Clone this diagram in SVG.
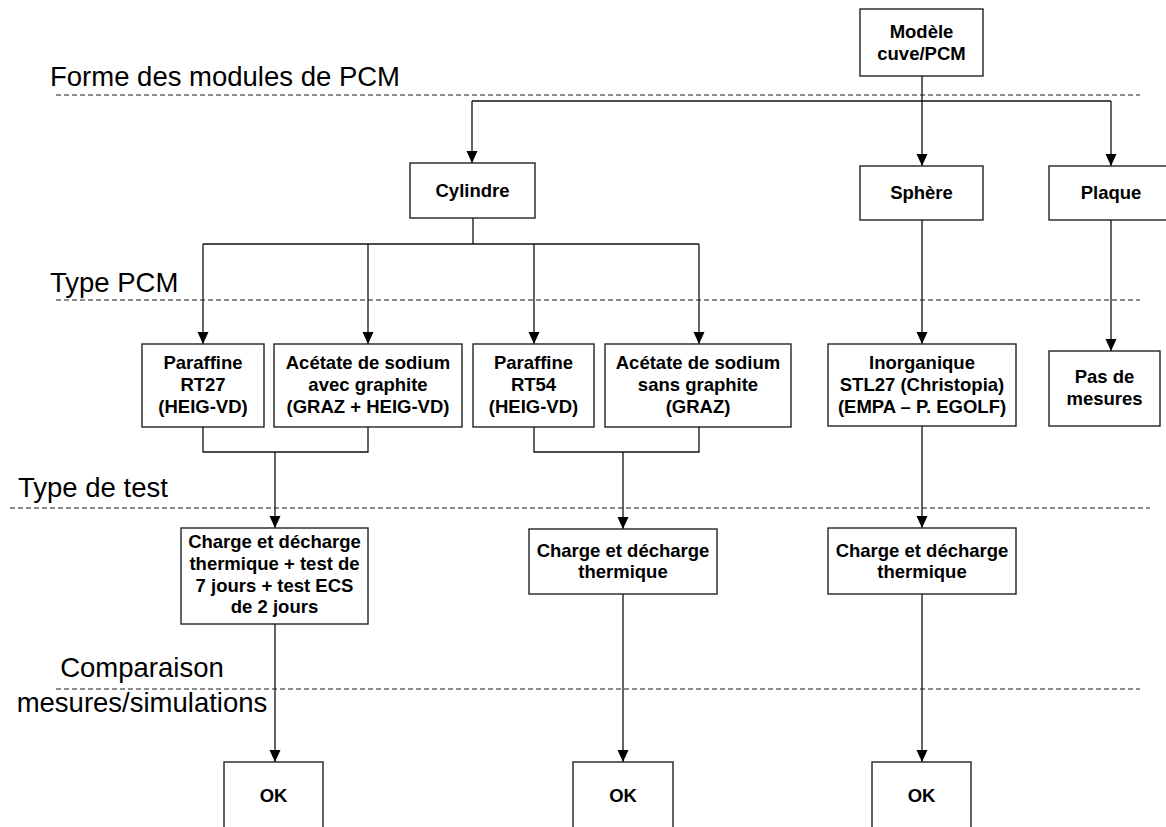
<svg xmlns="http://www.w3.org/2000/svg" width="1166" height="827" viewBox="0 0 1166 827">
  <style>
    .box { fill: #ffffff; stroke: #222222; stroke-width: 1.4; }
    .lbl { font-family: "Liberation Sans", Arial, sans-serif; font-weight: bold; font-size: 18.5px; fill: #000000; text-anchor: middle; }
    .stage { font-family: "Liberation Sans", Arial, sans-serif; font-size: 27.5px; fill: #000000; }
    .sep { stroke: #1a1a1a; stroke-width: 1; stroke-dasharray: 5 3; fill: none; }
    .wire { stroke: #111111; stroke-width: 1.3; fill: none; }
    .arrow { stroke: #111111; stroke-width: 1.3; fill: none; marker-end: url(#head); }
  </style>
  <defs>
    <marker id="head" markerWidth="12" markerHeight="12" refX="12" refY="6" orient="auto" markerUnits="userSpaceOnUse">
      <path d="M0,0.5 L12,6 L0,11.5 Z" fill="#000000"/>
    </marker>
  </defs>

  <rect width="1166" height="827" fill="#ffffff"/>

  <!-- stage separators and titles -->
  <g id="stages">
    <line class="sep" x1="56" y1="95" x2="1140" y2="95"/>
    <line class="sep" x1="56" y1="300" x2="1140" y2="300"/>
    <line class="sep" x1="10" y1="508" x2="1150" y2="508"/>
    <line class="sep" x1="56" y1="689" x2="1140" y2="689"/>
    <text class="stage" x="50" y="86">Forme des modules de PCM</text>
    <text class="stage" x="50" y="292">Type PCM</text>
    <text class="stage" x="18" y="497">Type de test</text>
    <text class="stage" x="142" y="677" text-anchor="middle">Comparaison</text>
    <text class="stage" x="142" y="712" text-anchor="middle">mesures/simulations</text>
  </g>

  <!-- connectors -->
  <g id="connectors">
    <!-- model to module shapes -->
    <line class="wire" x1="922" y1="76" x2="922" y2="101"/>
    <line class="wire" x1="472" y1="101" x2="1111" y2="101"/>
    <line class="arrow" x1="472" y1="101" x2="472" y2="163"/>
    <line class="arrow" x1="922" y1="101" x2="922" y2="166"/>
    <line class="arrow" x1="1111" y1="101" x2="1111" y2="166"/>
    <!-- cylinder to PCM types -->
    <line class="wire" x1="473" y1="218" x2="473" y2="244"/>
    <line class="wire" x1="203" y1="244" x2="699" y2="244"/>
    <line class="arrow" x1="203" y1="244" x2="203" y2="344"/>
    <line class="arrow" x1="368" y1="244" x2="368" y2="344"/>
    <line class="arrow" x1="534" y1="244" x2="534" y2="344"/>
    <line class="arrow" x1="699" y1="244" x2="699" y2="344"/>
    <!-- sphere and plate -->
    <line class="arrow" x1="922" y1="220" x2="922" y2="344"/>
    <line class="arrow" x1="1111" y1="220" x2="1111" y2="351"/>
    <!-- PCM types to tests -->
    <polyline class="wire" points="203,427 203,452 368,452 368,427"/>
    <line class="arrow" x1="275" y1="452" x2="275" y2="528"/>
    <polyline class="wire" points="534,427 534,452 699,452 699,427"/>
    <line class="arrow" x1="623" y1="452" x2="623" y2="529"/>
    <line class="arrow" x1="922" y1="426" x2="922" y2="528"/>
    <!-- tests to comparison -->
    <line class="arrow" x1="275" y1="624" x2="275" y2="762"/>
    <line class="arrow" x1="623" y1="594" x2="623" y2="762"/>
    <line class="arrow" x1="922" y1="594" x2="922" y2="762"/>
  </g>

  <g id="modele">
    <rect class="box" x="860" y="9" width="123" height="67"/>
    <text class="lbl" x="921.5" y="38">Modèle</text>
    <text class="lbl" x="921.5" y="60">cuve/PCM</text>
  </g>

  <g id="cylindre">
    <rect class="box" x="410" y="163" width="125" height="55"/>
    <text class="lbl" x="472.5" y="197">Cylindre</text>
  </g>
  <g id="sphere">
    <rect class="box" x="860" y="166" width="123" height="54"/>
    <text class="lbl" x="921.5" y="199">Sphère</text>
  </g>
  <g id="plaque">
    <rect class="box" x="1049" y="166" width="124" height="54"/>
    <text class="lbl" x="1111" y="199">Plaque</text>
  </g>

  <g id="paraffine-rt27">
    <rect class="box" x="142" y="344" width="122" height="83"/>
    <text class="lbl" x="203" y="368.5">Paraffine</text>
    <text class="lbl" x="203" y="390.5">RT27</text>
    <text class="lbl" x="203" y="412.5">(HEIG-VD)</text>
  </g>
  <g id="acetate-avec">
    <rect class="box" x="274" y="344" width="188" height="83"/>
    <text class="lbl" x="368" y="368.5">Acétate de sodium</text>
    <text class="lbl" x="368" y="390.5">avec graphite</text>
    <text class="lbl" x="368" y="412.5">(GRAZ + HEIG-VD)</text>
  </g>
  <g id="paraffine-rt54">
    <rect class="box" x="473" y="344" width="121" height="83"/>
    <text class="lbl" x="533.5" y="368.5">Paraffine</text>
    <text class="lbl" x="533.5" y="390.5">RT54</text>
    <text class="lbl" x="533.5" y="412.5">(HEIG-VD)</text>
  </g>
  <g id="acetate-sans">
    <rect class="box" x="605" y="344" width="186" height="83"/>
    <text class="lbl" x="698" y="368.5">Acétate de sodium</text>
    <text class="lbl" x="698" y="390.5">sans graphite</text>
    <text class="lbl" x="698" y="412.5">(GRAZ)</text>
  </g>
  <g id="inorganique">
    <rect class="box" x="828" y="344" width="188" height="82"/>
    <text class="lbl" x="922" y="368.5">Inorganique</text>
    <text class="lbl" x="922" y="390.5">STL27 (Christopia)</text>
    <text class="lbl" x="922" y="412.5">(EMPA – P. EGOLF)</text>
  </g>
  <g id="pas-de-mesures">
    <rect class="box" x="1049" y="351" width="111" height="75"/>
    <text class="lbl" x="1104.5" y="383">Pas de</text>
    <text class="lbl" x="1104.5" y="405">mesures</text>
  </g>

  <g id="test-cylindre-1">
    <rect class="box" x="181" y="528" width="187" height="96"/>
    <text class="lbl" x="274.5" y="548">Charge et décharge</text>
    <text class="lbl" x="274.5" y="570">thermique + test de</text>
    <text class="lbl" x="274.5" y="591.5">7 jours + test ECS</text>
    <text class="lbl" x="274.5" y="613">de 2 jours</text>
  </g>
  <g id="test-cylindre-2">
    <rect class="box" x="529" y="529" width="188" height="65"/>
    <text class="lbl" x="623" y="556.5">Charge et décharge</text>
    <text class="lbl" x="623" y="577.5">thermique</text>
  </g>
  <g id="test-sphere">
    <rect class="box" x="828" y="528" width="188" height="66"/>
    <text class="lbl" x="922" y="556.5">Charge et décharge</text>
    <text class="lbl" x="922" y="577.5">thermique</text>
  </g>

  <g id="ok-1">
    <rect class="box" x="224" y="762" width="99" height="80"/>
    <text class="lbl" x="273.5" y="802">OK</text>
  </g>
  <g id="ok-2">
    <rect class="box" x="573" y="762" width="100" height="80"/>
    <text class="lbl" x="623" y="802">OK</text>
  </g>
  <g id="ok-3">
    <rect class="box" x="872" y="762" width="99" height="80"/>
    <text class="lbl" x="921.5" y="802">OK</text>
  </g>
</svg>
